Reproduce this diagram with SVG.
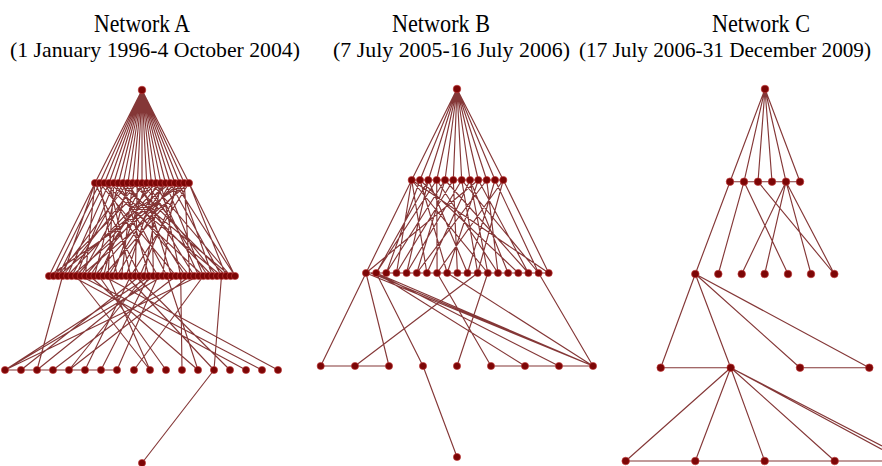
<svg xmlns="http://www.w3.org/2000/svg" width="882" height="466" viewBox="0 0 882 466">
<style>
.t{font-family:"Liberation Serif","Times New Roman",serif;fill:#000}
.h{font-size:25px}
.s{font-size:22px}
.e{fill:none;stroke:#6e1414;stroke-width:1.15;stroke-opacity:0.85}
circle{fill:#7c0606;stroke:#c23a3a;stroke-width:0.9;stroke-opacity:0.7}
</style>
<rect width="882" height="466" fill="#fff"/>
<g id="titles">
<text class="t h" x="94" y="32" textLength="96" lengthAdjust="spacingAndGlyphs">Network A</text>
<text class="t s" x="10" y="57" textLength="290" lengthAdjust="spacingAndGlyphs">(1 January 1996-4 October 2004)</text>
<text class="t h" x="392" y="32" textLength="98" lengthAdjust="spacingAndGlyphs">Network B</text>
<text class="t s" x="333" y="57" textLength="237" lengthAdjust="spacingAndGlyphs">(7 July 2005-16 July 2006)</text>
<text class="t h" x="712" y="32" textLength="98" lengthAdjust="spacingAndGlyphs">Network C</text>
<text class="t s" x="579" y="57" textLength="292" lengthAdjust="spacingAndGlyphs">(17 July 2006-31 December 2009)</text>
</g>
<g id="connectors">
<path class="e" d="M142 90L95 183M142 90L99.7 183M142 90L104.4 183M142 90L109.1 183M142 90L113.8 183M142 90L118.5 183M142 90L123.2 183M142 90L127.9 183M142 90L132.6 183M142 90L137.3 183M142 90L142 183M142 90L146.7 183M142 90L151.4 183M142 90L156.1 183M142 90L160.8 183M142 90L165.5 183M142 90L170.2 183M142 90L174.9 183M142 90L179.6 183M142 90L184.3 183M142 90L189 183M95 183L189 183M49 276L235 276"/>
<path class="e" d="M95 183L49 276M95 183L62.6 276M95 183L85.3 276M95 183L139.8 276M99.7 183L53.5 276M99.7 183L117.1 276M99.7 183L176.1 276M104.4 183L58.1 276M104.4 183L158 276M104.4 183L203.4 276M109.1 183L67.2 276M109.1 183L130.7 276M109.1 183L221.5 276M113.8 183L76.2 276M113.8 183L189.7 276M113.8 183L108 276M118.5 183L94.4 276M118.5 183L167 276M118.5 183L230.6 276M123.2 183L71.7 276M123.2 183L148.9 276M123.2 183L212.4 276M127.9 183L103.5 276M127.9 183L185.2 276M127.9 183L58.1 276M132.6 183L121.6 276M132.6 183L80.8 276M132.6 183L226.1 276M137.3 183L135.3 276M137.3 183L194.3 276M137.3 183L62.6 276M142 183L98.9 276M142 183L171.6 276M142 183L217 276M146.7 183L112.6 276M146.7 183L53.5 276M146.7 183L207.9 276M151.4 183L89.9 276M151.4 183L153.4 276M151.4 183L230.6 276M156.1 183L67.2 276M156.1 183L126.2 276M156.1 183L198.8 276M160.8 183L76.2 276M160.8 183L180.7 276M160.8 183L144.3 276M165.5 183L108 276M165.5 183L203.4 276M165.5 183L85.3 276M170.2 183L117.1 276M170.2 183L58.1 276M170.2 183L221.5 276M174.9 183L94.4 276M174.9 183L162.5 276M174.9 183L235 276M179.6 183L71.7 276M179.6 183L139.8 276M179.6 183L212.4 276M184.3 183L103.5 276M184.3 183L189.7 276M184.3 183L49 276M189 183L235 276M189 183L130.7 276M189 183L80.8 276M189 183L226.1 276"/>
<path class="e" d="M150 276L5 370M162.5 276L5 370M198.8 276L5 370M139.8 276L21 370M62.6 276L37 370M153.4 276L37 370M176.1 276L53 370M144.3 276L69 370M189.7 276L69 370M130.7 276L85 370M148.9 276L101 370M158 276L117 370M203.4 276L134 370M76.2 276L150 370M108 276L150 370M98.9 276L166 370M180.7 276L182 370M167 276L198 370M89.9 276L198 370M126.2 276L214 370M221.5 276L214 370M135.3 276L230 370M71.7 276L246 370M80.8 276L262 370M103.5 276L278 370M5 370L117 370M214 370L142 463"/>
<path class="e" d="M457 89L411.7 180M457 89L420 180M457 89L428.3 180M457 89L436.7 180M457 89L445 180M457 89L453.3 180M457 89L461.7 180M457 89L470 180M457 89L478.3 180M457 89L486.7 180M457 89L495 180M457 89L503.3 180M411.7 180L503.3 180M366 273L548.7 273"/>
<path class="e" d="M411.7 180L366 273M411.7 180L396.5 273M411.7 180L426.9 273M411.7 180L548.7 273M411.7 180L487.8 273M420 180L386.3 273M420 180L447.2 273M420 180L518.3 273M428.3 180L406.6 273M428.3 180L467.5 273M428.3 180L376.2 273M436.7 180L376.2 273M436.7 180L437.1 273M436.7 180L498 273M445 180L386.3 273M445 180L416.8 273M445 180L528.4 273M453.3 180L457.4 273M453.3 180L396.5 273M461.7 180L406.6 273M461.7 180L477.7 273M461.7 180L538.6 273M470 180L426.9 273M470 180L508.1 273M470 180L487.8 273M478.3 180L447.2 273M478.3 180L528.4 273M478.3 180L366 273M486.7 180L498 273M486.7 180L416.8 273M495 180L467.5 273M495 180L538.6 273M503.3 180L477.7 273M503.3 180L437.1 273M503.3 180L548.7 273"/>
<path class="e" d="M366 273L320.7 366M366 273L389 366M376.2 273L423 366M366 273L593 366M376.2 273L593 366M371 273L593 366M376.2 273L525 366M376.2 273L559 366M477.7 273L355 366M487.8 273L457 366M437.1 273L491 366M447.2 273L593 366M538.6 273L593 366M320.7 366L389 366M491 366L593 366M423 366L457 457"/>
<path class="e" d="M765 89L730 181.7M765 89L744 181.7M765 89L758 181.7M765 89L772 181.7M765 89L786 181.7M765 89L800 181.7M730 181.7L800 181.7M730 181.7L695.3 274M744 181.7L718.3 274M744 181.7L788 274M758 181.7L834.3 274M786 181.7L741.7 274M786 181.7L764.7 274M786 181.7L811 274M786 181.7L834.3 274M695.3 274L660.7 367.7M695.3 274L730.7 367.7M695.3 274L800 367.7M695.3 274L869.3 367.7M660.7 367.7L730.7 367.7M800 367.7L869.3 367.7M730.7 367.7L625.7 461M730.7 367.7L695.3 461M730.7 367.7L764.7 461M730.7 367.7L834.7 461M730.7 367.7L882 446M730.7 367.7L882 449.5M625.7 461L882 461"/>
</g>
<g id="network-a">
<g id="a0"><circle cx="142" cy="90" r="3.8"/></g>
<g id="a1-0"><circle cx="95" cy="183" r="3.6"/></g>
<g id="a1-1"><circle cx="99.7" cy="183" r="3.6"/></g>
<g id="a1-2"><circle cx="104.4" cy="183" r="3.6"/></g>
<g id="a1-3"><circle cx="109.1" cy="183" r="3.6"/></g>
<g id="a1-4"><circle cx="113.8" cy="183" r="3.6"/></g>
<g id="a1-5"><circle cx="118.5" cy="183" r="3.6"/></g>
<g id="a1-6"><circle cx="123.2" cy="183" r="3.6"/></g>
<g id="a1-7"><circle cx="127.9" cy="183" r="3.6"/></g>
<g id="a1-8"><circle cx="132.6" cy="183" r="3.6"/></g>
<g id="a1-9"><circle cx="137.3" cy="183" r="3.6"/></g>
<g id="a1-10"><circle cx="142" cy="183" r="3.6"/></g>
<g id="a1-11"><circle cx="146.7" cy="183" r="3.6"/></g>
<g id="a1-12"><circle cx="151.4" cy="183" r="3.6"/></g>
<g id="a1-13"><circle cx="156.1" cy="183" r="3.6"/></g>
<g id="a1-14"><circle cx="160.8" cy="183" r="3.6"/></g>
<g id="a1-15"><circle cx="165.5" cy="183" r="3.6"/></g>
<g id="a1-16"><circle cx="170.2" cy="183" r="3.6"/></g>
<g id="a1-17"><circle cx="174.9" cy="183" r="3.6"/></g>
<g id="a1-18"><circle cx="179.6" cy="183" r="3.6"/></g>
<g id="a1-19"><circle cx="184.3" cy="183" r="3.6"/></g>
<g id="a1-20"><circle cx="189" cy="183" r="3.6"/></g>
<g id="a2-0"><circle cx="49" cy="276" r="3.6"/></g>
<g id="a2-1"><circle cx="53.5" cy="276" r="3.6"/></g>
<g id="a2-2"><circle cx="58.1" cy="276" r="3.6"/></g>
<g id="a2-3"><circle cx="62.6" cy="276" r="3.6"/></g>
<g id="a2-4"><circle cx="67.2" cy="276" r="3.6"/></g>
<g id="a2-5"><circle cx="71.7" cy="276" r="3.6"/></g>
<g id="a2-6"><circle cx="76.2" cy="276" r="3.6"/></g>
<g id="a2-7"><circle cx="80.8" cy="276" r="3.6"/></g>
<g id="a2-8"><circle cx="85.3" cy="276" r="3.6"/></g>
<g id="a2-9"><circle cx="89.9" cy="276" r="3.6"/></g>
<g id="a2-10"><circle cx="94.4" cy="276" r="3.6"/></g>
<g id="a2-11"><circle cx="98.9" cy="276" r="3.6"/></g>
<g id="a2-12"><circle cx="103.5" cy="276" r="3.6"/></g>
<g id="a2-13"><circle cx="108" cy="276" r="3.6"/></g>
<g id="a2-14"><circle cx="112.6" cy="276" r="3.6"/></g>
<g id="a2-15"><circle cx="117.1" cy="276" r="3.6"/></g>
<g id="a2-16"><circle cx="121.6" cy="276" r="3.6"/></g>
<g id="a2-17"><circle cx="126.2" cy="276" r="3.6"/></g>
<g id="a2-18"><circle cx="130.7" cy="276" r="3.6"/></g>
<g id="a2-19"><circle cx="135.3" cy="276" r="3.6"/></g>
<g id="a2-20"><circle cx="139.8" cy="276" r="3.6"/></g>
<g id="a2-21"><circle cx="144.3" cy="276" r="3.6"/></g>
<g id="a2-22"><circle cx="148.9" cy="276" r="3.6"/></g>
<g id="a2-23"><circle cx="153.4" cy="276" r="3.6"/></g>
<g id="a2-24"><circle cx="158" cy="276" r="3.6"/></g>
<g id="a2-25"><circle cx="162.5" cy="276" r="3.6"/></g>
<g id="a2-26"><circle cx="167" cy="276" r="3.6"/></g>
<g id="a2-27"><circle cx="171.6" cy="276" r="3.6"/></g>
<g id="a2-28"><circle cx="176.1" cy="276" r="3.6"/></g>
<g id="a2-29"><circle cx="180.7" cy="276" r="3.6"/></g>
<g id="a2-30"><circle cx="185.2" cy="276" r="3.6"/></g>
<g id="a2-31"><circle cx="189.7" cy="276" r="3.6"/></g>
<g id="a2-32"><circle cx="194.3" cy="276" r="3.6"/></g>
<g id="a2-33"><circle cx="198.8" cy="276" r="3.6"/></g>
<g id="a2-34"><circle cx="203.4" cy="276" r="3.6"/></g>
<g id="a2-35"><circle cx="207.9" cy="276" r="3.6"/></g>
<g id="a2-36"><circle cx="212.4" cy="276" r="3.6"/></g>
<g id="a2-37"><circle cx="217" cy="276" r="3.6"/></g>
<g id="a2-38"><circle cx="221.5" cy="276" r="3.6"/></g>
<g id="a2-39"><circle cx="226.1" cy="276" r="3.6"/></g>
<g id="a2-40"><circle cx="230.6" cy="276" r="3.6"/></g>
<g id="a2-41"><circle cx="235" cy="276" r="3.6"/></g>
<g id="a3-0"><circle cx="5" cy="370" r="3.6"/></g>
<g id="a3-1"><circle cx="21" cy="370" r="3.6"/></g>
<g id="a3-2"><circle cx="37" cy="370" r="3.6"/></g>
<g id="a3-3"><circle cx="53" cy="370" r="3.6"/></g>
<g id="a3-4"><circle cx="69" cy="370" r="3.6"/></g>
<g id="a3-5"><circle cx="85" cy="370" r="3.6"/></g>
<g id="a3-6"><circle cx="101" cy="370" r="3.6"/></g>
<g id="a3-7"><circle cx="117" cy="370" r="3.6"/></g>
<g id="a3-8"><circle cx="134" cy="370" r="3.6"/></g>
<g id="a3-9"><circle cx="150" cy="370" r="3.6"/></g>
<g id="a3-10"><circle cx="166" cy="370" r="3.6"/></g>
<g id="a3-11"><circle cx="182" cy="370" r="3.6"/></g>
<g id="a3-12"><circle cx="198" cy="370" r="3.6"/></g>
<g id="a3-13"><circle cx="214" cy="370" r="3.6"/></g>
<g id="a3-14"><circle cx="230" cy="370" r="3.6"/></g>
<g id="a3-15"><circle cx="246" cy="370" r="3.6"/></g>
<g id="a3-16"><circle cx="262" cy="370" r="3.6"/></g>
<g id="a3-17"><circle cx="278" cy="370" r="3.6"/></g>
<g id="a4-0"><circle cx="142" cy="463" r="3.6"/></g>
</g>
<g id="network-b">
<g id="b0"><circle cx="457" cy="89" r="3.8"/></g>
<g id="b1-0"><circle cx="411.7" cy="180" r="3.6"/></g>
<g id="b1-1"><circle cx="420" cy="180" r="3.6"/></g>
<g id="b1-2"><circle cx="428.3" cy="180" r="3.6"/></g>
<g id="b1-3"><circle cx="436.7" cy="180" r="3.6"/></g>
<g id="b1-4"><circle cx="445" cy="180" r="3.6"/></g>
<g id="b1-5"><circle cx="453.3" cy="180" r="3.6"/></g>
<g id="b1-6"><circle cx="461.7" cy="180" r="3.6"/></g>
<g id="b1-7"><circle cx="470" cy="180" r="3.6"/></g>
<g id="b1-8"><circle cx="478.3" cy="180" r="3.6"/></g>
<g id="b1-9"><circle cx="486.7" cy="180" r="3.6"/></g>
<g id="b1-10"><circle cx="495" cy="180" r="3.6"/></g>
<g id="b1-11"><circle cx="503.3" cy="180" r="3.6"/></g>
<g id="b2-0"><circle cx="366" cy="273" r="3.6"/></g>
<g id="b2-1"><circle cx="376.2" cy="273" r="3.6"/></g>
<g id="b2-2"><circle cx="386.3" cy="273" r="3.6"/></g>
<g id="b2-3"><circle cx="396.5" cy="273" r="3.6"/></g>
<g id="b2-4"><circle cx="406.6" cy="273" r="3.6"/></g>
<g id="b2-5"><circle cx="416.8" cy="273" r="3.6"/></g>
<g id="b2-6"><circle cx="426.9" cy="273" r="3.6"/></g>
<g id="b2-7"><circle cx="437.1" cy="273" r="3.6"/></g>
<g id="b2-8"><circle cx="447.2" cy="273" r="3.6"/></g>
<g id="b2-9"><circle cx="457.4" cy="273" r="3.6"/></g>
<g id="b2-10"><circle cx="467.5" cy="273" r="3.6"/></g>
<g id="b2-11"><circle cx="477.7" cy="273" r="3.6"/></g>
<g id="b2-12"><circle cx="487.8" cy="273" r="3.6"/></g>
<g id="b2-13"><circle cx="498" cy="273" r="3.6"/></g>
<g id="b2-14"><circle cx="508.1" cy="273" r="3.6"/></g>
<g id="b2-15"><circle cx="518.3" cy="273" r="3.6"/></g>
<g id="b2-16"><circle cx="528.4" cy="273" r="3.6"/></g>
<g id="b2-17"><circle cx="538.6" cy="273" r="3.6"/></g>
<g id="b2-18"><circle cx="548.7" cy="273" r="3.6"/></g>
<g id="b3-0"><circle cx="320.7" cy="366" r="3.6"/></g>
<g id="b3-1"><circle cx="355" cy="366" r="3.6"/></g>
<g id="b3-2"><circle cx="389" cy="366" r="3.6"/></g>
<g id="b3-3"><circle cx="423" cy="366" r="3.6"/></g>
<g id="b3-4"><circle cx="457" cy="366" r="3.6"/></g>
<g id="b3-5"><circle cx="491" cy="366" r="3.6"/></g>
<g id="b3-6"><circle cx="525" cy="366" r="3.6"/></g>
<g id="b3-7"><circle cx="559" cy="366" r="3.6"/></g>
<g id="b3-8"><circle cx="593" cy="366" r="3.6"/></g>
<g id="b4-0"><circle cx="457" cy="457" r="3.6"/></g>
</g>
<g id="network-c">
<g id="c0"><circle cx="765" cy="89" r="3.8"/></g>
<g id="c1-0"><circle cx="730" cy="181.7" r="3.8"/></g>
<g id="c1-1"><circle cx="744" cy="181.7" r="3.8"/></g>
<g id="c1-2"><circle cx="758" cy="181.7" r="3.8"/></g>
<g id="c1-3"><circle cx="772" cy="181.7" r="3.8"/></g>
<g id="c1-4"><circle cx="786" cy="181.7" r="3.8"/></g>
<g id="c1-5"><circle cx="800" cy="181.7" r="3.8"/></g>
<g id="c2-0"><circle cx="695.3" cy="274" r="3.8"/></g>
<g id="c2-1"><circle cx="718.3" cy="274" r="3.8"/></g>
<g id="c2-2"><circle cx="741.7" cy="274" r="3.8"/></g>
<g id="c2-3"><circle cx="764.7" cy="274" r="3.8"/></g>
<g id="c2-4"><circle cx="788" cy="274" r="3.8"/></g>
<g id="c2-5"><circle cx="811" cy="274" r="3.8"/></g>
<g id="c2-6"><circle cx="834.3" cy="274" r="3.8"/></g>
<g id="c3-0"><circle cx="660.7" cy="367.7" r="3.8"/></g>
<g id="c3-1"><circle cx="730.7" cy="367.7" r="3.8"/></g>
<g id="c3-2"><circle cx="800" cy="367.7" r="3.8"/></g>
<g id="c3-3"><circle cx="869.3" cy="367.7" r="3.8"/></g>
<g id="c4-0"><circle cx="625.7" cy="461" r="3.8"/></g>
<g id="c4-1"><circle cx="695.3" cy="461" r="3.8"/></g>
<g id="c4-2"><circle cx="764.7" cy="461" r="3.8"/></g>
<g id="c4-3"><circle cx="834.7" cy="461" r="3.8"/></g>
</g>
</svg>
